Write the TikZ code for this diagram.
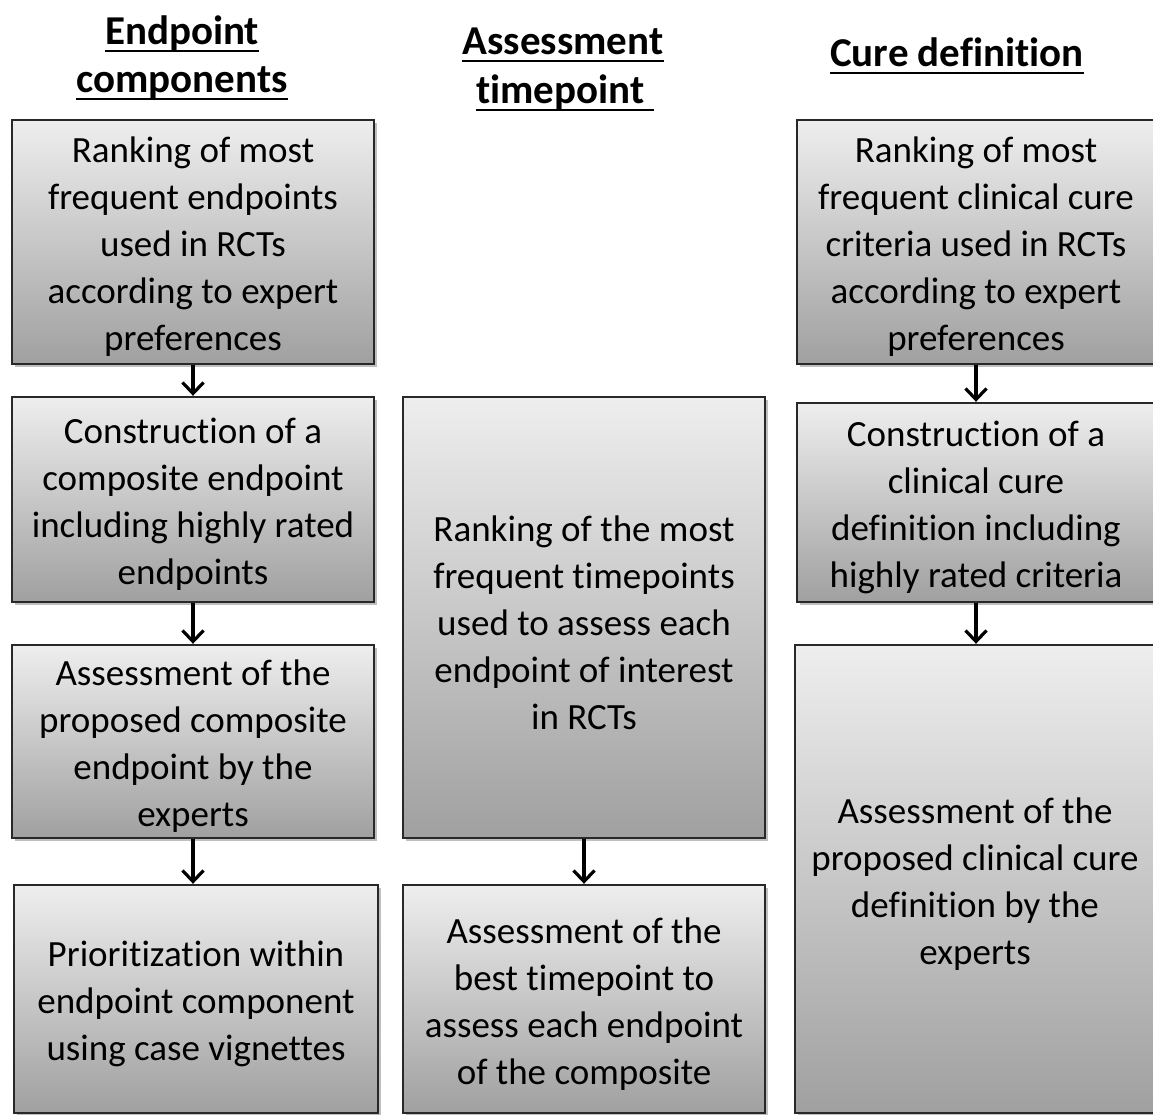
\documentclass[tikz,border=0pt]{standalone}
\usepackage{fontspec}
\setmainfont[Ligatures=NoCommon]{Carlito}
\usetikzlibrary{arrows.meta,shadows}
\definecolor{boxtop}{RGB}{238,238,238}
\definecolor{boxbot}{RGB}{160,160,160}
\definecolor{boxline}{RGB}{40,40,40}
\tikzset{
  stepbox/.style={rectangle, draw=boxline, line width=2.4pt, inner sep=0pt,
    top color=boxtop, bottom color=boxbot,
    drop shadow={shadow xshift=3pt, shadow yshift=-3pt, opacity=0.25, fill=black}},
  steptext/.style={align=center, inner sep=0pt, font=\fontsize{37}{47}\selectfont},
  head/.style={align=center, inner sep=0pt, font=\fontsize{41}{48}\selectfont\bfseries},
  uline/.style={line width=2.8pt, draw=black},
  arr/.style={line width=3.2pt, draw=black, -{Straight Barb[length=11pt,width=21pt,line width=3.2pt]}}
}
\newcommand\stepnode[6]{% name, x, y, w, h, text
  \node[stepbox, minimum width=#4pt, minimum height=#5pt] (#1) at (#2,#3) {};
  \node[steptext] (#1t) at ([yshift=-5pt]#1.center) {#6};
}
\begin{document}
\begin{tikzpicture}[x=1pt,y=-1pt]
\useasboundingbox (0,0) rectangle (1153,1115);
\fill[white] (0,0) rectangle (1153,1115);
% headers
\node[head, anchor=base] (h1a) at (182,45) {Endpoint};
\node[head, anchor=base] (h1b) at (182,93) {components};
\node[head, anchor=base] (h2a) at (563,55) {Assessment};
\node[head, anchor=base] (h2b) at (565,104) {timepoint\ };
\node[head, anchor=base] (h3) at (957,67) {Cure definition};
\foreach \h in {h1a,h1b,h2a,h2b,h3}{
  \draw[uline] ([yshift=-6pt]\h.base west) -- ([yshift=-6pt]\h.base east);
}
% column 1
\stepnode{B1}{193}{242}{362}{244}{Ranking of most\\frequent endpoints\\used in RCTs\\according to expert\\preferences}
\stepnode{B2}{193}{499.5}{362}{205}{Construction of a\\composite endpoint\\including highly rated\\endpoints}
\stepnode{B3}{193}{741.5}{362}{193}{Assessment of the\\proposed composite\\endpoint by the\\experts}
\stepnode{B4}{196}{999}{364}{228}{Prioritization within\\endpoint component\\using case vignettes}
% column 2
\stepnode{C1}{584}{617.5}{362}{441}{Ranking of the most\\frequent timepoints\\used to assess each\\endpoint of interest\\in RCTs}
\stepnode{C2}{584}{999}{362}{228}{Assessment of the\\best timepoint to\\assess each endpoint\\of the composite}
% column 3
\stepnode{D1}{976}{242}{358}{244}{Ranking of most\\frequent clinical cure\\criteria used in RCTs\\according to expert\\preferences}
\stepnode{D2}{976}{502.5}{358}{199}{Construction of a\\clinical cure\\definition including\\highly rated criteria}
\stepnode{D3}{975}{879}{360}{468}{Assessment of the\\proposed clinical cure\\definition by the\\experts}
% arrows
\draw[arr] (B1.south) -- (B1.south |- B2.north);
\draw[arr] (B2.south) -- (B2.south |- B3.north);
\draw[arr] (B3.south) -- (B3.south |- B4.north);
\draw[arr] (C1.south) -- (C1.south |- C2.north);
\draw[arr] (D1.south) -- (D1.south |- D2.north);
\draw[arr] (D2.south) -- (D2.south |- D3.north);
\end{tikzpicture}
\end{document}
